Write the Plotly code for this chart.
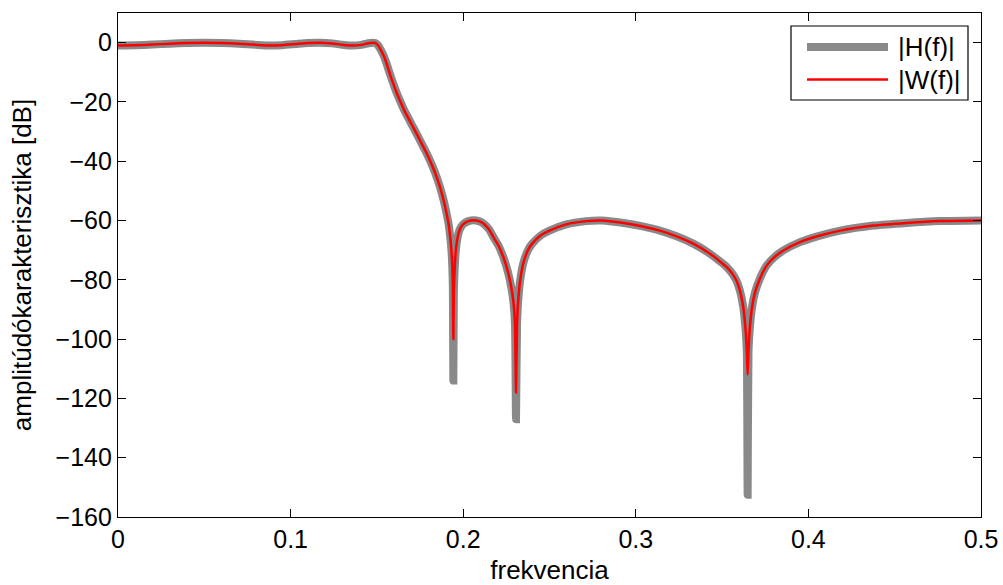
import plotly.graph_objects as go

# ---- data ----
freq = [0.000, 0.010, 0.020, 0.030, 0.040, 0.050, 0.060, 0.070, 0.080, 0.088,
        0.095, 0.103, 0.110, 0.117, 0.124, 0.130, 0.136, 0.141, 0.145, 0.1475,
        0.1490, 0.1505, 0.152, 0.154, 0.1557, 0.1575, 0.1596, 0.1615, 0.1634, 0.166,
        0.169, 0.172, 0.175, 0.178, 0.1808, 0.1838, 0.1866, 0.1888, 0.1904, 0.1915,
        0.1927, 0.1933, 0.1937, 0.1940, 0.1943, 0.1946, 0.1950, 0.1956, 0.1965, 0.1980,
        0.2000, 0.2030, 0.2060, 0.2090, 0.2117, 0.2150, 0.2175, 0.2205, 0.2233, 0.2260,
        0.2280, 0.2292, 0.2300, 0.2306, 0.2312, 0.2320, 0.2333, 0.2350, 0.2375, 0.2400,
        0.2450, 0.2500, 0.2597, 0.2713, 0.2800, 0.2948, 0.3040, 0.3140, 0.3240, 0.3333,
        0.3430, 0.3488, 0.3527, 0.3560, 0.3585, 0.3605, 0.3622, 0.3635, 0.3643, 0.3648,
        0.3653, 0.3661, 0.3674, 0.3692, 0.3719, 0.3758, 0.3800, 0.3855, 0.3951, 0.4047,
        0.4184, 0.4377, 0.4570, 0.4763, 0.5000]

h_db = [-1.0, -0.9, -0.65, -0.35, -0.1, 0.0, -0.1, -0.35, -0.75, -1.0,
        -0.85, -0.45, -0.1, 0.0, -0.25, -0.7, -1.0, -0.75, -0.2, 0.0,
        -0.1, -0.8, -2.2, -4.5, -7.2, -10.5, -14.0, -17.0, -19.6, -23.0,
        -26.3, -29.6, -33.0, -36.4, -39.8, -44.0, -48.8, -53.5, -57.7, -61.0,
        -66.7, -71.0, -76.0, -82.0, -114.0, -84.0, -77.0, -71.0, -66.5, -63.0,
        -61.2, -60.2, -59.9, -60.2, -61.0, -63.0, -65.6, -68.5, -72.4, -77.5,
        -83.0, -88.0, -95.0, -127.0, -95.0, -86.0, -79.0, -74.0, -70.0, -67.8,
        -65.0, -63.4, -61.3, -60.2, -60.0, -61.0, -62.0, -63.4, -65.4, -67.8,
        -71.2, -73.8, -75.7, -78.0, -80.5, -84.0, -89.0, -96.0, -104.0, -152.5,
        -104.0, -96.0, -89.0, -84.0, -79.6, -75.2, -72.5, -70.1, -67.3, -65.4,
        -63.4, -61.7, -60.8, -60.2, -60.0]

w_db = [-1.0, -0.9, -0.65, -0.35, -0.1, 0.0, -0.1, -0.35, -0.75, -1.0,
        -0.85, -0.45, -0.1, 0.0, -0.25, -0.7, -1.0, -0.75, -0.2, 0.0,
        -0.1, -0.8, -2.2, -4.5, -7.2, -10.5, -14.0, -17.0, -19.6, -23.0,
        -26.3, -29.6, -33.0, -36.4, -39.8, -44.0, -48.8, -53.5, -57.7, -61.0,
        -66.7, -71.0, -76.0, -82.0, -100.0, -84.0, -77.0, -71.0, -66.5, -63.0,
        -61.2, -60.2, -59.9, -60.2, -61.0, -63.0, -65.6, -68.5, -72.4, -77.5,
        -83.0, -88.0, -95.0, -118.0, -95.0, -86.0, -79.0, -74.0, -70.0, -67.8,
        -65.0, -63.4, -61.3, -60.2, -60.0, -61.0, -62.0, -63.4, -65.4, -67.8,
        -71.2, -73.8, -75.7, -78.0, -80.5, -84.0, -89.0, -96.0, -104.0, -112.0,
        -104.0, -96.0, -89.0, -84.0, -79.6, -75.2, -72.5, -70.1, -67.3, -65.4,
        -63.4, -61.7, -60.8, -60.2, -60.0]

series_names = ["|H(f)|", "|W(f)|"]
x_ticks = [0, 0.1, 0.2, 0.3, 0.4, 0.5]
x_tick_labels = ["0", "0.1", "0.2", "0.3", "0.4", "0.5"]
y_ticks = [-160, -140, -120, -100, -80, -60, -40, -20, 0]
x_title = "frekvencia"
y_title = "amplitúdókarakterisztika [dB]"

GRAY = "#898989"
RED = "#ff0000"
FONT = "Liberation Sans, Arial, Helvetica, sans-serif"

fig = go.Figure()
fig.add_trace(go.Scatter(x=freq, y=h_db, mode="lines", name=series_names[0],
                         line=dict(color=GRAY, width=8, shape="spline", smoothing=0.6),
                         showlegend=False))
fig.add_trace(go.Scatter(x=freq, y=w_db, mode="lines", name=series_names[1],
                         line=dict(color=RED, width=2.5, shape="spline", smoothing=0.6),
                         showlegend=False))

W, H = 1003, 585
L, R, T, B = 118, 981, 13, 517
pw, ph = R - L, B - T

def px(x):
    return (x - L) / pw

def py(y):
    return (B - y) / ph

# manual legend (MATLAB style, long line samples)
shapes = [
    dict(type="rect", xref="paper", yref="paper", x0=px(791), x1=px(968), y0=py(100), y1=py(26),
         line=dict(color="black", width=1.2), fillcolor="white", layer="above"),
    dict(type="line", xref="paper", yref="paper", x0=px(807), x1=px(888), y0=py(47), y1=py(47),
         line=dict(color=GRAY, width=8), layer="above"),
    dict(type="line", xref="paper", yref="paper", x0=px(807), x1=px(888), y0=py(79.5), y1=py(79.5),
         line=dict(color=RED, width=2.5), layer="above"),
]
annotations = [
    dict(text=series_names[0], xref="paper", yref="paper", x=px(896), y=py(47), xanchor="left",
         yanchor="middle", showarrow=False, font=dict(family=FONT, size=26, color="black")),
    dict(text=series_names[1], xref="paper", yref="paper", x=px(896), y=py(80), xanchor="left",
         yanchor="middle", showarrow=False, font=dict(family=FONT, size=26, color="black")),
]

fig.update_layout(
    width=W, height=H,
    margin=dict(l=L, r=W - R, t=T, b=H - B, autoexpand=False),
    paper_bgcolor="white", plot_bgcolor="white",
    font=dict(family=FONT, size=25, color="black"),
    shapes=shapes, annotations=annotations,
    showlegend=False,
)
fig.update_xaxes(range=[0, 0.5], tickvals=x_ticks, ticktext=x_tick_labels, automargin=False,
                 showgrid=False, zeroline=False, showline=True, linecolor="black", linewidth=1.3,
                 mirror="ticks", ticks="inside", ticklen=8, tickwidth=1, tickcolor="black",
                 title=dict(text=x_title, standoff=17, font=dict(size=26)))
fig.update_yaxes(range=[-160, 10], tickvals=y_ticks, automargin=False,
                 showgrid=False, zeroline=False, showline=True, linecolor="black", linewidth=1.3,
                 mirror="ticks", ticks="inside", ticklen=8, tickwidth=1, tickcolor="black",
                 title=dict(text=y_title, standoff=16, font=dict(size=26)))

fig.write_html("out.html")
